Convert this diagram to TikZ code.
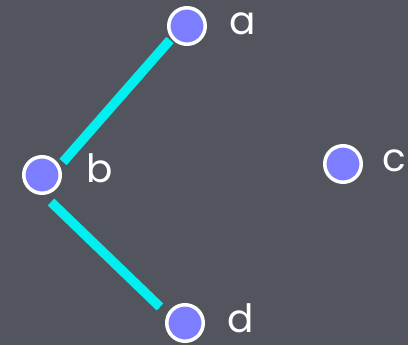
\documentclass[tikz,border=0pt]{standalone}
\usepackage{fontspec}
\setmainfont{Poppins}
\usetikzlibrary{calc}
\pgfdeclarelayer{bglayer}
\pgfdeclarelayer{edgelayer}
\pgfsetlayers{bglayer,edgelayer,main}
\definecolor{bgcol}{RGB}{83,85,94}
\definecolor{nodecol}{RGB}{124,126,255}
\definecolor{edgecol}{RGB}{0,240,240}
\tikzset{
  vertex/.style={circle,draw=white,line width=3.5pt,fill=nodecol,minimum size=36.5pt,inner sep=0pt},
  vlabel/.style={text=white,anchor=base west,inner sep=0pt,text depth=0pt,font=\fontsize{39}{39}\selectfont},
  edge/.style={draw=edgecol,line width=9.5pt,line cap=butt}
}
\begin{document}
\begin{tikzpicture}[x=1pt,y=-1pt]
\begin{pgfonlayer}{bglayer}
\fill[bgcol] (0,0) rectangle (408,345);
\end{pgfonlayer}
\useasboundingbox (0,0) rectangle (408,345);
\node[vertex] (a) at (187,26) {};
\node[vertex] (b) at (42,175) {};
\node[vertex] (c) at (343,164) {};
\node[vertex] (d) at (185,323) {};
\node[vlabel] (la) at ($(a)+(42,9)$) {a};
\node[vlabel] (lb) at ($(b)+(44,8)$) {b};
\node[vlabel] (lc) at ($(c)+(39,8)$) {c};
\node[vlabel] (ld) at ($(d)+(42,10)$) {d};
\coordinate (ab1) at ($(a)+(-17,14)$);
\coordinate (ab2) at ($(b)+(21,-13)$);
\coordinate (bd1) at ($(b)+(9,27)$);
\coordinate (bd2) at ($(d)+(-25,-16)$);
\begin{pgfonlayer}{edgelayer}
\draw[edge] (ab1) -- (ab2);
\draw[edge] (bd1) -- (bd2);
\end{pgfonlayer}
\end{tikzpicture}
\end{document}
